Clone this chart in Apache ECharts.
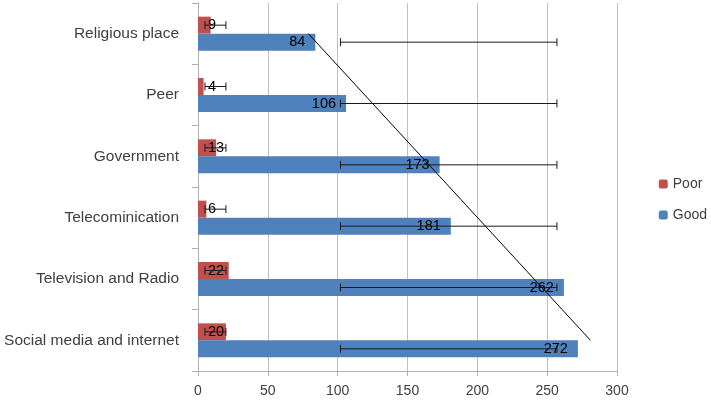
<!DOCTYPE html>
<html>
<head>
<meta charset="utf-8">
<script src="https://cdn.jsdelivr.net/npm/echarts@6/dist/echarts.min.js"></script>
<style>
  html, body { margin: 0; padding: 0; background: #fff; }
  #chart { width: 711px; height: 401px; }
</style>
</head>
<body>
<div id="chart"></div>
<script>
// categories, bottom to top
const categories = ['Social media and internet', 'Television and Radio', 'Telecominication', 'Government', 'Peer', 'Religious place'];
const poorValues = [20, 22, 6, 13, 4, 9];
const goodValues = [272, 262, 181, 173, 106, 84];
// error bar ranges (same for every bar of a series)
const poorError = [5, 20];
const goodError = [102, 257];
// linear trend of Good, only the end points are drawn
const trendValues = [281, null, null, null, null, 79];
const xTicks = { min: 0, max: 300, interval: 50 };

const BAR_W = 17;
const chart = echarts.init(document.getElementById('chart'));

// error bar drawer, shift = pixel offset from band centre
function errorBar(shift) {
  return function (params, api) {
    const cat = api.value(2);
    const p1 = api.coord([api.value(0), cat]);
    const p2 = api.coord([api.value(1), cat]);
    const y = p1[1] + shift;
    const style = { stroke: '#1a1a1a', lineWidth: 1 };
    return {
      type: 'group',
      children: [
        { type: 'line', shape: { x1: p1[0], y1: y, x2: p2[0], y2: y }, style: style },
        { type: 'line', shape: { x1: p1[0], y1: y - 4, x2: p1[0], y2: y + 4 }, style: style },
        { type: 'line', shape: { x1: p2[0], y1: y - 4, x2: p2[0], y2: y + 4 }, style: style }
      ]
    };
  };
}

const font = 'Liberation Sans';

chart.setOption({
  animation: false,
  textStyle: { fontFamily: font },
  grid: { left: 198, right: 94, top: 3, bottom: 30 },
  legend: {
    orient: 'vertical',
    right: -1,
    top: 172,
    itemWidth: 9,
    itemHeight: 9,
    itemGap: 17,
    data: ['Poor', 'Good'],
    textStyle: { fontSize: 14, color: '#404040', fontFamily: font }
  },
  xAxis: {
    type: 'value',
    min: xTicks.min,
    max: xTicks.max,
    interval: xTicks.interval,
    axisLine: { show: true, lineStyle: { color: '#b0b0b0' } },
    axisTick: { show: true, length: 5, lineStyle: { color: '#b0b0b0' } },
    splitLine: { lineStyle: { color: '#c0c0c0' } },
    axisLabel: { fontSize: 14, color: '#404040', margin: 13 }
  },
  yAxis: {
    type: 'category',
    data: categories,
    axisLine: { show: true, lineStyle: { color: '#b0b0b0' } },
    axisTick: { show: true, length: 6, lineStyle: { color: '#b0b0b0' } },
    axisLabel: { fontSize: 15.5, color: '#404040', margin: 19, padding: [3, 0, 0, 0] }
  },
  series: [
    {
      name: 'Poor',
      type: 'bar',
      data: poorValues,
      barWidth: BAR_W,
      barGap: '0%',
      itemStyle: { color: '#C0504D' },
      label: { show: true, position: 'insideLeft', distance: 10, color: '#000', fontSize: 14.5 }
    },
    {
      name: 'Good',
      type: 'bar',
      data: goodValues,
      barWidth: BAR_W,
      barGap: '0%',
      itemStyle: { color: '#4F81BD' },
      label: { show: true, position: 'insideRight', distance: 10, color: '#000', fontSize: 14.5 }
    },
    {
      type: 'custom',
      name: 'poorErr',
      renderItem: errorBar(-BAR_W / 2),
      encode: { x: [0, 1], y: 2 },
      data: categories.map((c, i) => [poorError[0], poorError[1], i]),
      z: 5
    },
    {
      type: 'custom',
      name: 'goodErr',
      renderItem: errorBar(BAR_W / 2),
      encode: { x: [0, 1], y: 2 },
      data: categories.map((c, i) => [goodError[0], goodError[1], i]),
      z: 5
    },
    {
      type: 'line',
      name: 'trend',
      data: trendValues.map((v, i) => [v, i]),
      connectNulls: true,
      symbol: 'none',
      lineStyle: { color: '#000', width: 1 },
      z: 6
    }
  ]
});
</script>
</body>
</html>
